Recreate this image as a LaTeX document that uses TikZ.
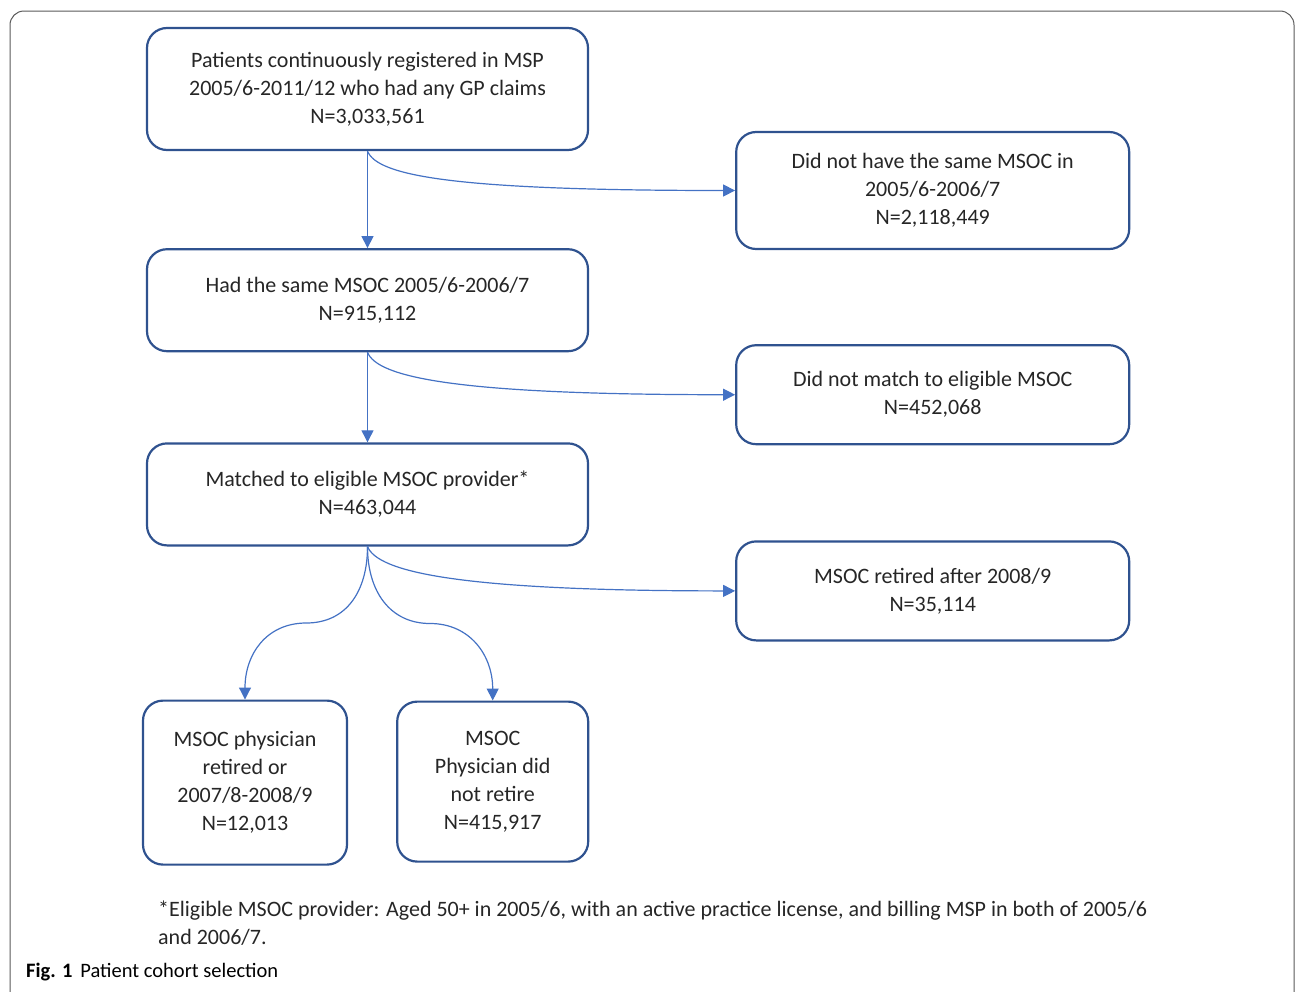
\documentclass[tikz,border=0pt]{standalone}
\usepackage{fontspec}
\setmainfont{Carlito}
\usetikzlibrary{positioning, arrows.meta, calc}
\definecolor{boxblue}{HTML}{2F528F}
\definecolor{arrowblue}{HTML}{4472C4}
\definecolor{textgray}{HTML}{262626}

\begin{document}
\begin{tikzpicture}[x=1pt,y=-1pt,
    box/.style={draw=boxblue, line width=2.2pt, rounded corners=20pt, align=center, text=textgray, font=\fontsize{22}{28}\selectfont, inner sep=0pt},
    wide/.style={box, minimum width=441pt, minimum height=102pt},
    side/.style={box, minimum width=393pt, minimum height=99pt},
    flow/.style={draw=arrowblue, line width=1.2pt, -{Triangle[width=12pt,length=12pt]}}]
    \useasboundingbox (0,0) rectangle (1295,991);
    \clip (0,0) rectangle (1295,991);
    \draw[draw=black!65, line width=1pt, rounded corners=14pt] (10,11) rectangle (1294,1010);

    \node[wide, minimum height=122pt] (patients) at (367.5,89) {Patients continuously registered in MSP\\2005/6-2011/12 who had any GP claims\\N=3,033,561};
    \node[side, minimum height=117pt] (notsame) [right=146pt of patients, yshift=-101.5pt] {Did not have the same MSOC in\\2005/6-2006/7\\N=2,118,449};
    \node[wide] (same) [below=97pt of patients] {Had the same MSOC 2005/6-2006/7\\N=915,112};
    \node[side] (nomatch) [right=146pt of same, yshift=-94.5pt] {Did not match to eligible MSOC\\N=452,068};
    \node[wide] (matched) [below=90pt of same] {Matched to eligible MSOC provider*\\N=463,044};
    \node[side] (retafter) [right=146pt of matched, yshift=-96.5pt] {MSOC retired after 2008/9\\N=35,114};
    \node[box, minimum width=204pt, minimum height=164pt] (retired) [below=153pt of matched, xshift=-122.5pt] {MSOC physician\\retired or\\2007/8-2008/9\\N=12,013};
    \node[box, minimum width=191pt, minimum height=160pt] (notret) [right=48pt of retired, yshift=1pt] {MSOC\\Physician did\\not retire\\N=415,917};

    \coordinate (midL) at ($(matched.south)!0.5!(retired.north)$);
    \coordinate (midR) at ($(matched.south)!0.5!(notret.north)$);

    \draw[flow] (patients.south) -- (same.north);
    \draw[flow] (patients.south) .. controls +(10,25) and +(-280,0) .. (notsame.west);
    \draw[flow] (same.south) -- (matched.north);
    \draw[flow] (same.south) .. controls +(10,25) and +(-280,0) .. (nomatch.west);
    \draw[flow] (matched.south) .. controls +(10,25) and +(-280,0) .. (retafter.west);
    \draw[flow] (matched.south) .. controls +(0,45) and +(40,0) .. (midL) .. controls +(-40,0) and +(0,-45) .. (retired.north);
    \draw[flow] (matched.south) .. controls +(0,45) and +(-40,0) .. (midR) .. controls +(40,0) and +(0,-45) .. (notret.north);

    \node[anchor=base west, inner sep=0pt, align=left, text=textgray, font=\fontsize{22}{28}\selectfont] (note) at (158,944) {*Eligible MSOC provider: Aged 50+ in 2005/6, with an active practice license, and billing MSP in both of 2005/6\\and 2006/7.};
    \node[anchor=base west, inner sep=0pt, font=\fontsize{20.5}{24}\selectfont] (caption) at (26,977) {\textbf{Fig. 1}\hspace{8pt}Patient cohort selection};
\end{tikzpicture}
\end{document}
